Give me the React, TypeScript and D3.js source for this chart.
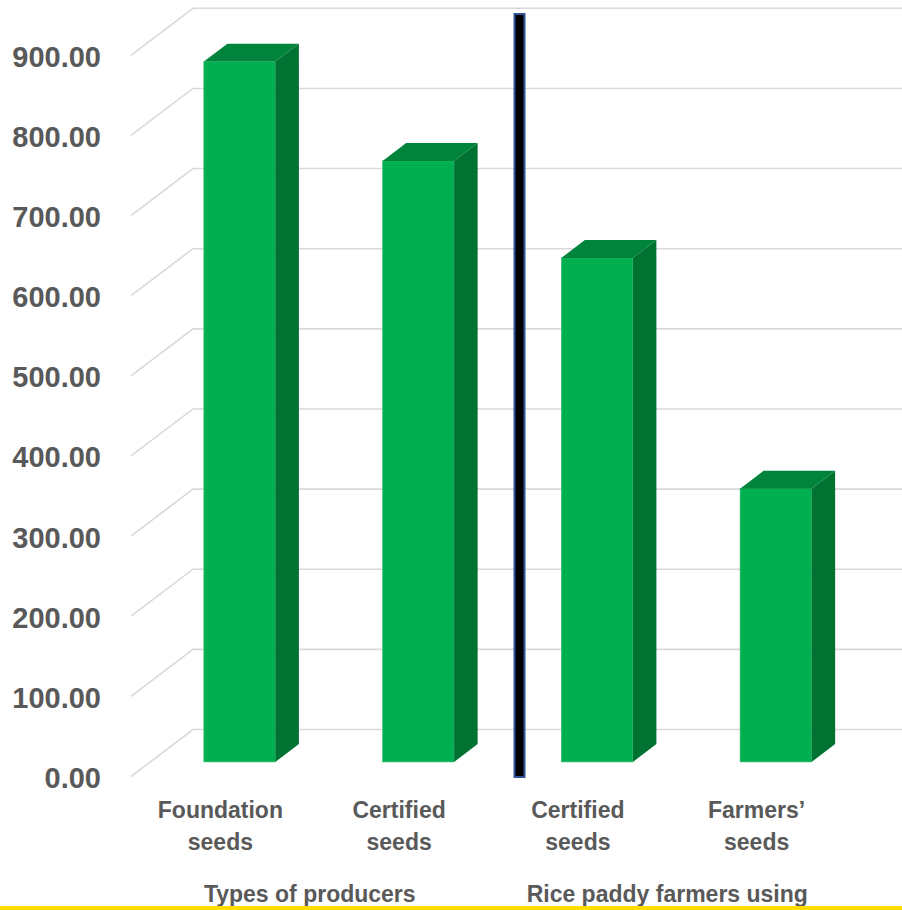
import React from "react";
import * as d3 from "d3";

const categories: string[][] = [
  ["Foundation", "seeds"],
  ["Certified", "seeds"],
  ["Certified", "seeds"],
  ["Farmers’", "seeds"],
];
const values: number[] = [874, 750, 629, 341];
const yTicks: number[] = [0, 100, 200, 300, 400, 500, 600, 700, 800, 900];
const groupTitles: string[] = ["Types of producers", "Rice paddy farmers using"];
const groupSpans: number[][] = [[0, 1], [2, 3]];

const W = 902;
const H = 910;
const DX = 62;
const DY = -47;
const T0 = 0.31;
const T1 = 0.69;
const FONT = "'Liberation Sans', Arial, sans-serif";
const TXT = "#595959";

export default function App() {
  const yBack = d3.scaleLinear().domain([0, 900]).range([729.5, 8.3]);
  const yFront = (v: number) => yBack(v) - DY;
  const x = d3
    .scaleBand<number>()
    .domain(values.map((_, i) => i))
    .range([131, 846])
    .paddingInner(0.6)
    .paddingOuter(0.3);
  const step = x.step();
  const bw = x.bandwidth();
  const frontLeft = x.range()[0];

  const bars = values.map((v, i) => {
    const x0 = (x(i) as number) + T0 * DX;
    const x1 = x0 + bw;
    const yb = yFront(0) + T0 * DY;
    const yt = yFront(v) + T0 * DY;
    const d = T1 - T0;
    const ox = d * DX;
    const oy = d * DY;
    const top = `M${x0},${yt} L${x0 + ox},${yt + oy} L${x1 + ox},${yt + oy} L${x1},${yt} Z`;
    const side = `M${x1},${yt} L${x1 + ox},${yt + oy} L${x1 + ox},${yb + oy} L${x1},${yb} Z`;
    return (
      <g key={i}>
        <rect x={x0} y={yt} width={bw} height={yb - yt} fill="#00B050" stroke="#33C070" strokeWidth={0.6} />
        <path d={top} fill="#00843C" />
        <path d={side} fill="#007232" />
      </g>
    );
  });

  const dividerX = frontLeft + 2 * step + 0.5 * DX;

  return (
    <svg
      width={W}
      height={H}
      style={{ position: "absolute", left: 0, top: 0, background: "#fff" }}
      fontFamily={FONT}
    >
      <rect x={0} y={0} width={W} height={H} fill="#fff" />
      {yTicks.map((t) => (
        <g key={t}>
          <path
            d={`M${frontLeft},${yFront(t)} L${frontLeft + DX},${yBack(t)} L${W + 10},${yBack(t)}`}
            fill="none"
            stroke="#D9D9D9"
            strokeWidth={1.6}
          />
          <text
            x={101}
            y={yFront(t) + 1.5}
            textAnchor="end"
            dominantBaseline="central"
            fontSize={29}
            fontWeight="bold"
            fill={TXT}
          >
            {t.toFixed(2)}
          </text>
        </g>
      ))}
      {bars}
      <rect
        x={dividerX - 5}
        y={14}
        width={10}
        height={763}
        fill="#000"
        stroke="#2F5597"
        strokeWidth={2}
      />
      {categories.map((lines, i) => (
        <text
          key={i}
          x={(x(i) as number) + bw / 2}
          textAnchor="middle"
          fontSize={23}
          fontWeight="bold"
          fill={TXT}
        >
          <tspan x={(x(i) as number) + bw / 2} y={818}>{lines[0]}</tspan>
          <tspan x={(x(i) as number) + bw / 2} y={850}>{lines[1]}</tspan>
        </text>
      ))}
      {groupTitles.map((g, i) => {
        const a = groupSpans[i][0];
        const b = groupSpans[i][1];
        const cx = ((x(a) as number) + (x(b) as number) + bw) / 2;
        return (
          <text key={g} x={cx} y={902} textAnchor="middle" fontSize={23} fontWeight="bold" fill={TXT}>
            {g}
          </text>
        );
      })}
      <rect x={0} y={906} width={W} height={4} fill="#FFDD00" />
    </svg>
  );
}
